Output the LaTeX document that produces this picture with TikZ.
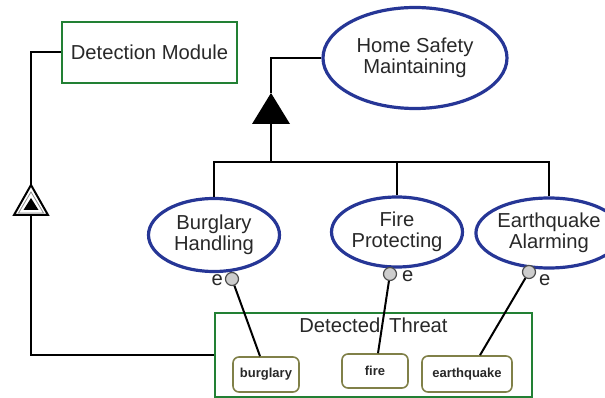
\documentclass[tikz,border=0pt]{standalone}
\usepackage{fontspec}
\setmainfont{Liberation Sans}
\usetikzlibrary{shapes.geometric}
\definecolor{goalBlue}{RGB}{38,54,150}
\definecolor{moduleGreen}{RGB}{34,128,52}
\definecolor{itemOlive}{RGB}{128,128,72}
\definecolor{inkGray}{RGB}{40,40,40}
\definecolor{portGray}{RGB}{205,205,205}
\newcommand{\BigText}{\fontsize{20.2}{20.5}\selectfont}

\begin{document}
\begin{tikzpicture}[x=1pt,y=-1pt,line width=2pt,text=inkGray,
  goal/.style={ellipse,draw=goalBlue,line width=3.2pt,align=center,inner sep=0pt,font=\BigText},
  modbox/.style={rectangle,draw=moduleGreen,line width=2pt,inner sep=0pt},
  itembox/.style={rectangle,rounded corners=6pt,draw=itemOlive,line width=1.6pt,inner sep=0pt,font=\fontsize{13}{15}\selectfont\bfseries},
  port/.style={circle,draw=black!70,fill=portGray,line width=1.2pt,minimum size=13pt,inner sep=0pt},
  elabel/.style={font=\BigText,inner sep=0pt}]
\useasboundingbox (0,0) rectangle (605,398);
\node[modbox,minimum width=175pt,minimum height=61pt,font=\BigText] (dm) at (149.5,52.5) {Detection Module};
\node[goal,minimum width=184pt,minimum height=101pt] (hsm) at (415,58) {Home Safety\\Maintaining};
\node[goal,minimum width=131pt,minimum height=73pt] (bh) at (214,235) {Burglary\\Handling};
\node[goal,minimum width=131pt,minimum height=70pt] (fp) at (397,232) {Fire\\Protecting};
\node[goal,minimum width=122pt,minimum height=70pt] (ea) at (549,233) {Earthquake\\Alarming};
\node[modbox,minimum width=317pt,minimum height=84pt] (dt) at (373.5,355) {};
\node[anchor=north,font=\BigText,inner sep=0pt] (dtlabel) at ([yshift=-5pt]dt.north) {Detected\, Threat};
\node[itembox,minimum width=66pt,minimum height=35pt] (bur) at (266,374.5) {burglary};
\node[itembox,minimum width=66pt,minimum height=34pt] (fire) at (375,371) {fire};
\node[itembox,minimum width=90pt,minimum height=36pt] (eq) at (467,374) {earthquake};
\node[port] (pb) at (232,279) {};
\node[port] (pf) at (390,274) {};
\node[port] (pe) at (529,272) {};
\node[elabel,anchor=east] (eb) at ([xshift=-1pt,yshift=-1pt]pb.west) {e};
\node[elabel,anchor=west] (ef) at ([xshift=4pt,yshift=-2pt]pf.east) {e};
\node[elabel,anchor=west] (ee) at ([xshift=2pt,yshift=-8pt]pe.east) {e};
\coordinate (andtop) at (271,93);
\coordinate (andbase) at (271,124);
\coordinate (bar) at (271,162);
\draw (hsm.west) -| (andtop);
\fill (andtop) -- ++(19,31) -- ++(-38,0) -- cycle;
\draw (andbase) -- (bar);
\draw (bh.north) |- (bar);
\draw (ea.north) |- (bar);
\draw (fp.north) -- (fp.north |- bar);
\coordinate (gentip) at (31,185);
\coordinate (genbase) at (31,215);
\draw (dm.west) -| (gentip);
\draw[line join=miter] (gentip) -- ++(17,30) -- ++(-34,0) -- cycle;
\draw[black!45,line width=0.8pt] ([yshift=-7pt]gentip) -- ++(12.5,21) -- ++(-25,0) -- cycle;
\fill ([yshift=-13pt]gentip) -- ++(7.5,12) -- ++(-15,0) -- cycle;
\draw (genbase) |- (dt.west);
\draw (pb) -- ([xshift=-6pt]bur.north);
\draw (pf) -- ([xshift=3pt]fire.north);
\draw (pe) -- ([xshift=13pt]eq.north);
\end{tikzpicture}
\end{document}
